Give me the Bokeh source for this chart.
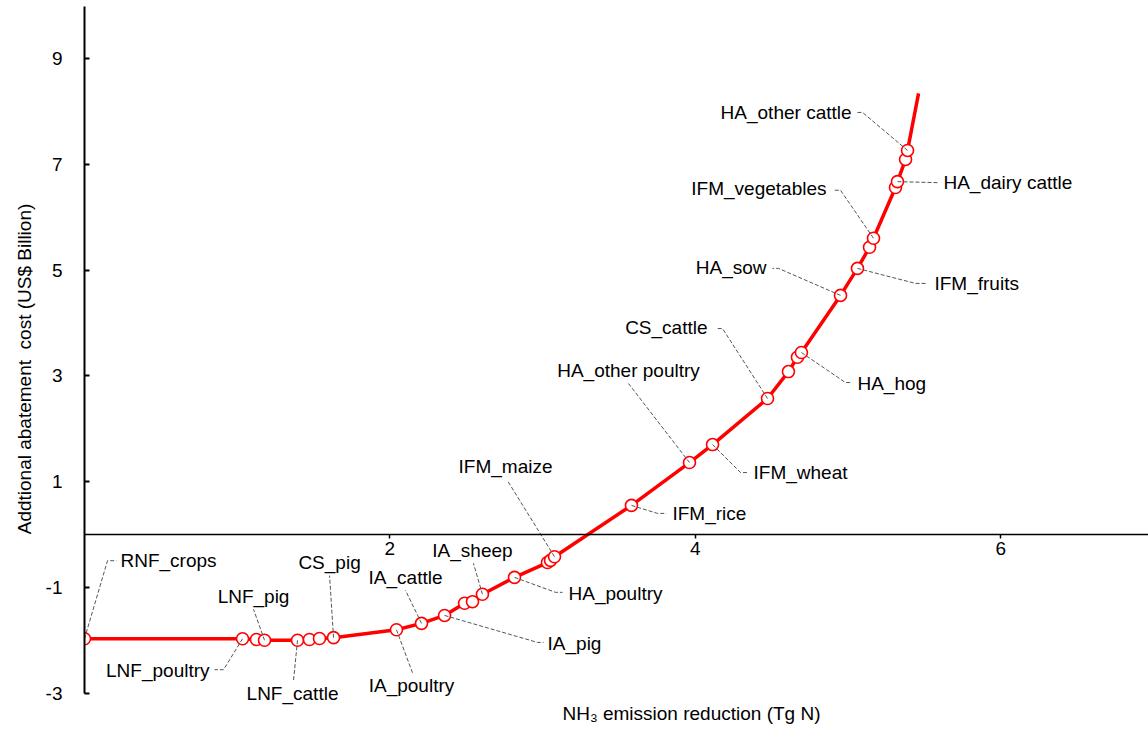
from bokeh.plotting import figure
from bokeh.models import Range1d, LinearAxis, FixedTicker, ColumnDataSource
from bokeh.embed import file_html
from bokeh.resources import INLINE
from bokeh.core.properties import value

# ---- data ----
measure_names = ["RNF_crops", "LNF_poultry", "", "LNF_pig", "LNF_cattle", "", "", "CS_pig",
                 "IA_poultry", "IA_cattle", "IA_pig", "", "", "IA_sheep", "HA_poultry", "", "",
                 "IFM_maize", "IFM_rice", "HA_other poultry", "IFM_wheat", "CS_cattle", "", "",
                 "HA_hog", "HA_sow", "IFM_fruits", "", "IFM_vegetables", "", "HA_dairy cattle", "",
                 "HA_other cattle"]
reduction = [0.0, 1.035, 1.126, 1.179, 1.395, 1.473, 1.539, 1.631,
             2.043, 2.207, 2.358, 2.489, 2.541, 2.606, 2.816, 3.032, 3.052,
             3.078, 3.582, 3.962, 4.113, 4.473, 4.610, 4.669,
             4.695, 4.951, 5.062, 5.141, 5.167, 5.311, 5.324, 5.377,
             5.390]
cost = [-1.97, -1.97, -1.985, -2.0, -2.0, -1.985, -1.966, -1.95,
        -1.80, -1.68, -1.53, -1.30, -1.27, -1.13, -0.81, -0.53, -0.49,
        -0.42, 0.55, 1.36, 1.70, 2.57, 3.08, 3.35,
        3.44, 4.52, 5.03, 5.43, 5.60, 6.56, 6.67, 7.09,
        7.26]
curve_end_reduction = 5.462
curve_end_cost = 8.34

x_ticks = [2, 4, 6]
y_ticks = [-3, -1, 1, 3, 5, 7, 9]
y_tick_labels = {-3: "-3", -1: "-1", 1: "1", 3: "3", 5: "5", 7: "7", 9: "9"}

x_title = "NH\u2083 emission reduction (Tg N)"
y_title = "Addtional abatement\u00a0 cost (US$ Billion)"

# ---- label layout: (name, align, text offset, bend offset, end offset) in px, y down ----
label_layout = [
    ("RNF_crops", "left", (36, -78), (23, -78), (32, -78)),
    ("LNF_poultry", "right", (-33, 32), (-19, 31), (-28, 31)),
    ("LNF_pig", "center", (-11, -44), (-11, -31), None),
    ("LNF_cattle", "center", (-5, 53), (-4, 40), None),
    ("CS_pig", "center", (-4, -75), (-4, -62), None),
    ("IA_poultry", "center", (15, 56), (16, 43), None),
    ("IA_cattle", "center", (-16, -46), (-16, -33), None),
    ("IA_sheep", "center", (-10, -44), (-9, -31), None),
    ("IA_pig", "left", (103, 28), (93, 27), (99, 27)),
    ("HA_poultry", "left", (54, 16), (41, 15), (48, 15)),
    ("IFM_maize", "center", (-49, -90), (-47, -76), None),
    ("IFM_rice", "left", (41, 8), (26, 8), (35, 8)),
    ("HA_other poultry", "center", (-61, -92), (-61, -79), None),
    ("IFM_wheat", "left", (41, 28), (28, 28), (35, 28)),
    ("CS_cattle", "right", (-60, -71), (-45, -70), (-51, -70)),
    ("HA_hog", "left", (56, 31), (44, 30), (50, 30)),
    ("HA_sow", "right", (-74, -28), (-62, -27), (-68, -27)),
    ("IFM_fruits", "left", (77, 15), (58, 15), (69, 15)),
    ("IFM_vegetables", "right", (-47, -50), (-33, -48), (-40, -48)),
    ("HA_dairy cattle", "left", (46, 1), (40, 1), None),
    ("HA_other cattle", "right", (-56, -38), (-45, -38), (-51, -38)),
]

FONT = "Liberation Sans"
FS = "19px"

W, H = 1148, 731
LEFT, TOP = 84, 6
PX_X, PX_Y = 152.7, 52.9          # pixels per data unit
Y0_PX = 534                        # canvas row of y = 0
X_END = (W - LEFT) / PX_X
Y_END = (Y0_PX - TOP) / PX_Y
Y_START = -(H - Y0_PX) / PX_Y

p = figure(width=W, height=H, output_backend="svg", toolbar_location=None,
           x_range=Range1d(0, X_END), y_range=Range1d(Y_START, Y_END),
           x_axis_location=None, title=None,
           min_border_left=LEFT, min_border_right=0, min_border_top=TOP, min_border_bottom=0)
p.outline_line_color = None
p.grid.visible = False
p.background_fill_color = "white"

# y axis (left), drawn only from -3 upward
ya = p.yaxis[0]
ya.ticker = FixedTicker(ticks=y_ticks)
ya.major_label_overrides = y_tick_labels
ya.bounds = (y_ticks[0], Y_END)
ya.major_tick_in = 5
ya.major_tick_out = 0
ya.minor_tick_line_color = None
ya.axis_line_width = 2
ya.major_tick_line_width = 2
ya.major_label_standoff = 22
ya.major_label_text_font = FONT
ya.major_label_text_font_size = FS
ya.major_label_text_color = "black"
ya.axis_label = y_title
ya.axis_label_text_font = FONT
ya.axis_label_text_font_size = FS
ya.axis_label_text_font_style = "normal"
ya.axis_label_text_color = "black"
ya.axis_label_standoff = 8

# x axis crossing at y = 0
xa = LinearAxis(fixed_location=0, ticker=FixedTicker(ticks=x_ticks))
xa.major_tick_in = 0
xa.major_tick_out = 4
xa.minor_tick_line_color = None
xa.axis_line_width = 1.5
xa.major_tick_line_width = 1.5
xa.major_label_standoff = 3
xa.major_label_text_font = FONT
xa.major_label_text_font_size = FS
xa.major_label_text_color = "black"
p.add_layout(xa, "below")

# curve
p.line(reduction + [curve_end_reduction], cost + [curve_end_cost], line_color="#FF0000", line_width=3.5)
p.scatter(reduction, cost, marker="circle", size=12, fill_color="white", line_color="#FF0000", line_width=1.6)

# leaders + labels
xs, ys, tx, ty, tt, ta = [], [], [], [], [], []
for name, align, t_off, b_off, h_off in label_layout:
    i = measure_names.index(name)
    x0, y0 = reduction[i], cost[i]
    def d(off):
        return x0 + off[0] / PX_X, y0 - off[1] / PX_Y
    pts = [(x0, y0), d(b_off)]
    if h_off is not None:
        pts.append(d(h_off))
    xs.append([q[0] for q in pts])
    ys.append([q[1] for q in pts])
    tpx, tpy = d(t_off)
    tx.append(tpx); ty.append(tpy); tt.append(name); ta.append(align)

p.multi_line(xs, ys, line_color="#555555", line_width=1, line_dash="4 2")
src = ColumnDataSource(dict(x=tx, y=ty, text=tt, align=ta))
p.text(x="x", y="y", text="text", text_align="align", source=src, text_baseline="middle",
       text_font=value(FONT), text_font_size=FS, text_color="black")

# x axis title at the bottom
p.text(x=[(562 - LEFT) / PX_X], y=[-(713 - Y0_PX) / PX_Y], text=[x_title], text_align="left",
       text_baseline="middle", text_font=value(FONT), text_font_size=FS, text_color="black")

open("out.html", "w").write(file_html(p, INLINE))
